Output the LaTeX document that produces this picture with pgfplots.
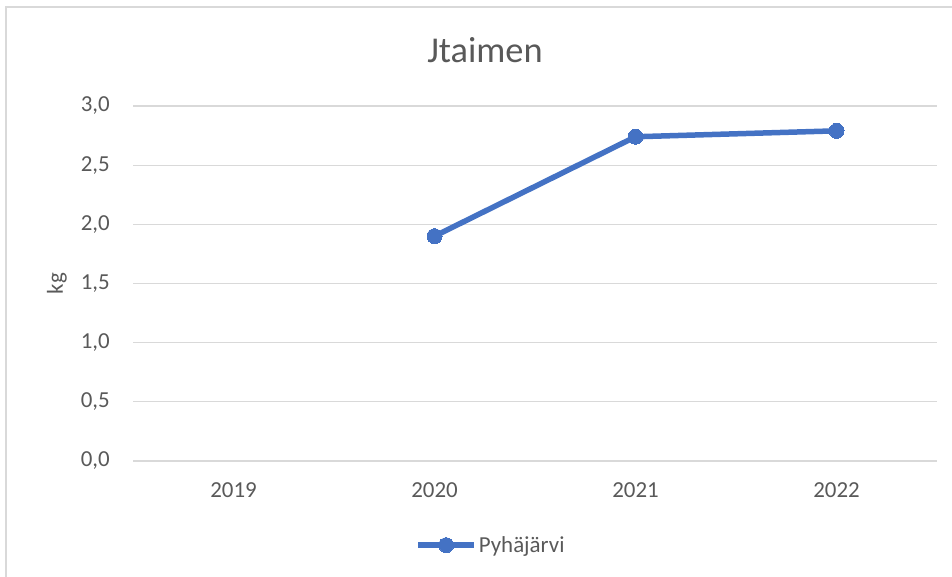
\documentclass[border=0pt]{standalone}
\usepackage{pgfplots}
\pgfplotsset{compat=1.18}
\usepackage{fontspec}
\setmainfont{Carlito}
\definecolor{txt}{HTML}{595959}
\definecolor{grid}{HTML}{D9D9D9}
\definecolor{ser}{HTML}{4472C4}
\begin{document}
\begin{tikzpicture}[x=1bp,y=1bp]
\useasboundingbox (0,0) rectangle (952,577);
\draw[color=grid,line width=1.2bp] (6,-5) -- (6,570) -- (960,570);
\node[text=txt,font=\fontsize{36.5}{40}\selectfont,anchor=base,inner sep=0pt] at (485,514) {Jtaimen};
\begin{axis}[
  at={(133bp,116bp)}, anchor=south west,
  scale only axis, width=804bp, height=355bp,
  xmin=-0.5, xmax=3.5, ymin=0, ymax=3,
  xtick={0,1,2,3}, xticklabels={2019,2020,2021,2022},
  ytick={0,0.5,1,1.5,2,2.5,3},
  /pgf/number format/assume math mode=true,
  yticklabel style={/pgf/number format/fixed,/pgf/number format/fixed zerofill,/pgf/number format/precision=1,/pgf/number format/use comma, anchor=east, inner sep=0pt, xshift=-23bp},
  ticklabel style={font=\fontsize{23}{27}\selectfont, text=txt},
  xticklabel style={anchor=base, inner sep=0pt, yshift=-37bp},
  axis line style={draw=none},
  major tick length=0pt,
  ymajorgrids, grid style={color=grid,line width=1.3bp},
  ylabel={kg}, ylabel style={font=\fontsize{23}{27}\selectfont, text=txt, at={(-76bp,177.5bp)}, anchor=center, inner sep=0pt},
  legend style={at={(0.351,-0.237)}, anchor=west, draw=none, fill=none, inner sep=0pt,
    font=\fontsize{23}{27}\selectfont, text=txt},
  legend image code/.code={\draw[mark repeat=2,mark phase=2,#1] plot coordinates {(0bp,0bp) (28bp,0bp) (56bp,0bp)};},
  legend cell align=left,
]
\addplot[color=ser, line width=5.5bp, mark=*, mark size=7.5bp, mark options={line width=0pt,fill=ser}]
  coordinates {(1,1.90) (2,2.74) (3,2.79)};
\addlegendentry{Pyhäjärvi}
\end{axis}
\end{tikzpicture}
\end{document}
